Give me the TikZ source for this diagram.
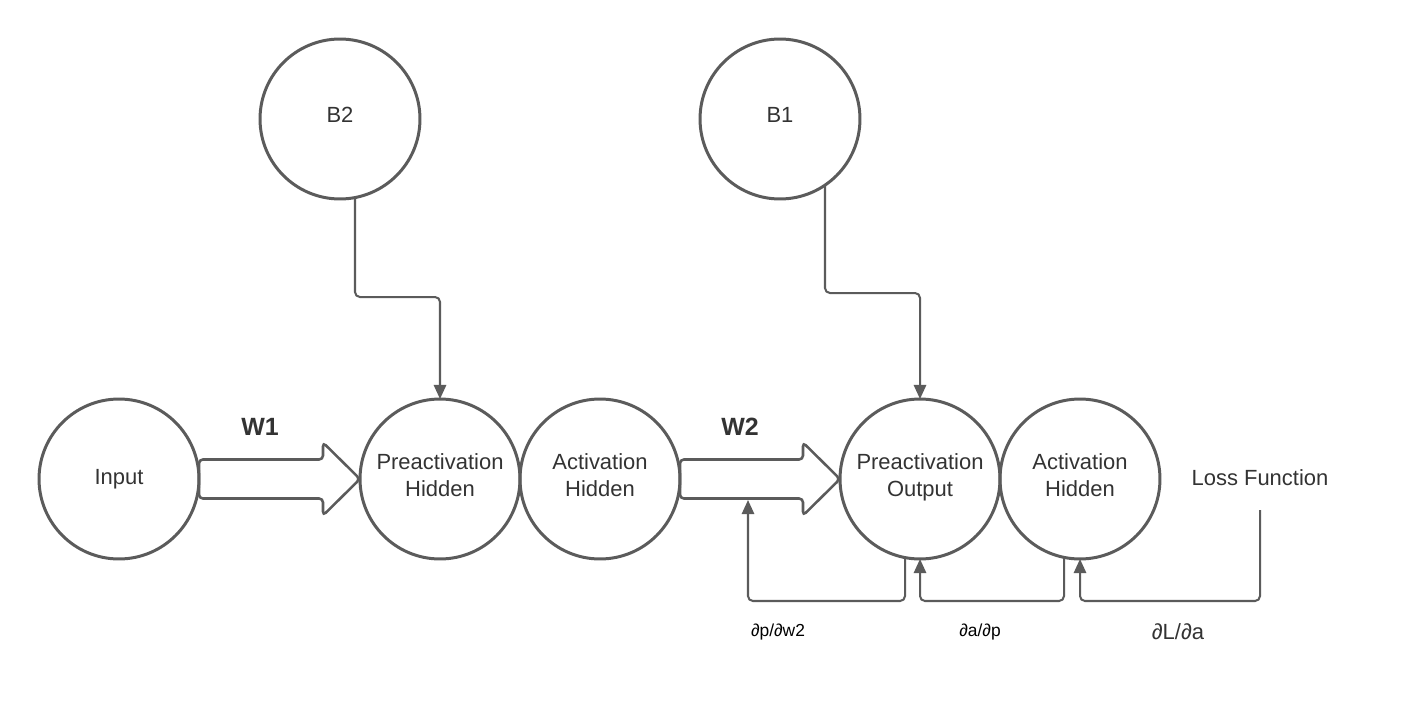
\documentclass[tikz,border=0pt]{standalone}
\usepackage{fontspec}
\setmainfont{Liberation Sans}
\usetikzlibrary{arrows.meta,calc}
\definecolor{strk}{HTML}{5B5B5B}
\definecolor{txtc}{HTML}{333333}
\tikzset{
  circ/.style={circle, draw=strk, line width=1.7pt, minimum size=3.2cm, inner sep=0pt, outer sep=0pt,
    align=center, text=txtc, font=\fontsize{12.5}{15.4}\selectfont},
  tup/.style={text depth=4.5pt},
  conn/.style={draw=strk, line width=1.15pt, rounded corners=2.8pt,
    -{Triangle[length=8pt,width=7pt]}},
  blk/.style={draw=strk, line width=1.45pt, rounded corners=2.2pt},
  wlbl/.style={text=txtc, font=\fontsize{14.2}{17}\selectfont\bfseries, inner sep=0pt},
  txt/.style={text=txtc, font=\fontsize{12.5}{15}\selectfont, inner sep=0pt},
  dlbl/.style={text=black, font=\fontsize{9.9}{12}\selectfont, inner sep=0pt},
  dlblbig/.style={text=txtc, font=\fontsize{12.5}{15}\selectfont, inner sep=0pt}
}
\begin{document}
\begin{tikzpicture}[x=0.02cm,y=-0.02cm]
\useasboundingbox[fill=white] (0,0) rectangle (1420,700);
% circles
\node[circ] (in) at (119,479) {Input};
\node[circ,tup] (ph) at (440,479) {Preactivation\\Hidden};
\node[circ,tup] (ah) at (600,479) {Activation\\Hidden};
\node[circ,tup] (po) at (920,479) {Preactivation\\Output};
\node[circ,tup] (ao) at (1080,479) {Activation\\Hidden};
\node[circ,tup] (b2) at (340,119) {B2};
\node[circ,tup] (b1) at (780,119) {B1};
\node[txt] (loss) at (1260,478) {Loss Function};
% block arrows
\draw[blk] (in.east) ++(0,-19.5) -- ++(124,0) -- ++(0,-17) -- ++(37,36.5) -- ++(-37,36.5) -- ++(0,-17) -- ++(-124,0) -- cycle;
\draw[blk] (ah.east) ++(0,-19.5) -- ++(123,0) -- ++(0,-17) -- ++(37,36.5) -- ++(-37,36.5) -- ++(0,-17) -- ++(-123,0) -- cycle;
\node[wlbl] (w1) at (260,427) {W1};
\node[wlbl] (w2) at (740,427) {W2};
\coordinate (w2b) at (748,500);
% bias connectors
\draw[conn] ($(b2.center)+(15,78.5)$) |- ($(ph.north)+(0,-102)$) -- (ph.north);
\draw[conn] ($(b1.center)+(45,66)$) |- ($(po.north)+(0,-106)$) -- (po.north);
% backprop connectors
\draw[conn] ($(loss.center)+(0,32)$) |- ($(ao.south)+(0,42)$) -- (ao.south);
\draw[conn] ($(ao.center)+(-16,78.4)$) |- ($(po.south)+(0,42)$) -- (po.south);
\draw[conn] ($(po.center)+(-15,78.5)$) |- ($(w2b)+(0,101)$) -- (w2b);
% labels
\node[dlbl] (l1) at (778,632) {∂p/∂w2};
\node[dlbl] (l2) at (980,632) {∂a/∂p};
\node[dlblbig] (l3) at (1178,632) {∂L/∂a};
\end{tikzpicture}
\end{document}
